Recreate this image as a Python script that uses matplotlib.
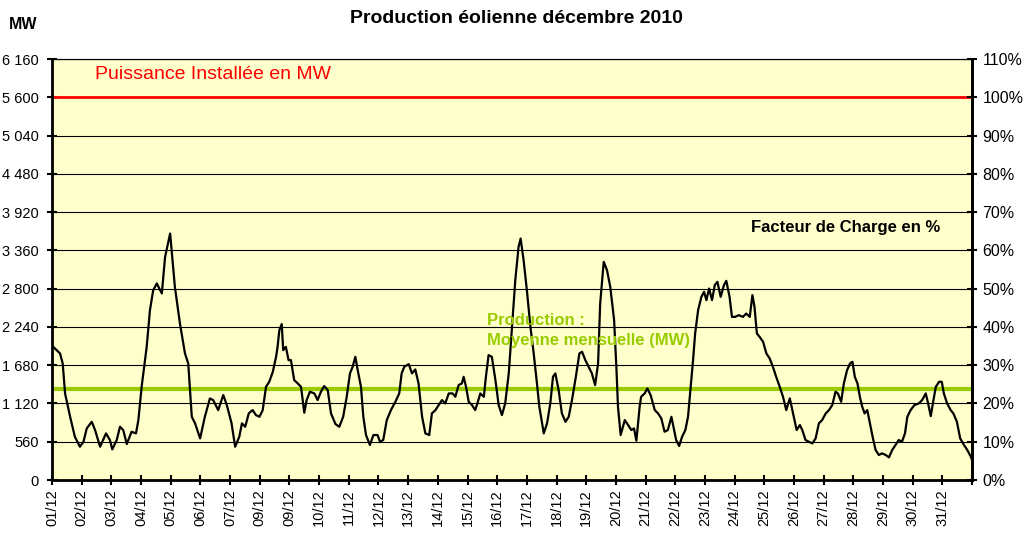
import matplotlib.pyplot as plt
from matplotlib.ticker import FuncFormatter

plt.rcParams['font.family'] = ['Liberation Sans', 'DejaVu Sans']

# data: days since 01/12 00h, MW
jours = [0.04, 0.27, 0.36, 0.44, 0.61, 0.77, 0.94, 1.06, 1.17, 1.34, 1.45, 1.62, 1.82, 1.95,
         2.03, 2.18, 2.29, 2.40, 2.52, 2.68, 2.83, 2.91, 3.02, 3.19, 3.30, 3.41, 3.53, 3.70,
         3.81, 3.98, 4.14, 4.31, 4.48, 4.59, 4.71, 4.82, 4.99, 5.15, 5.32, 5.43, 5.60, 5.77,
         5.89, 6.05, 6.17, 6.31, 6.40, 6.51, 6.63, 6.76, 6.87, 6.99, 7.10, 7.21, 7.32, 7.44,
         7.55, 7.60, 7.66, 7.74, 7.79, 7.88, 7.97, 8.05, 8.16, 8.28, 8.39, 8.50, 8.58, 8.69,
         8.84, 8.95, 9.06, 9.17, 9.29, 9.40, 9.55, 9.68, 9.81, 9.93, 10.04, 10.13, 10.22,
         10.30, 10.41, 10.49, 10.58, 10.71, 10.83, 10.97, 11.05, 11.16, 11.28, 11.42, 11.57,
         11.70, 11.78, 11.87, 12.02, 12.13, 12.24, 12.35, 12.47, 12.58, 12.71, 12.80, 12.92,
         13.03, 13.14, 13.25, 13.37, 13.50, 13.59, 13.70, 13.81, 13.87, 13.95, 14.04, 14.15,
         14.26, 14.35, 14.43, 14.55, 14.62, 14.71, 14.82, 14.94, 15.05, 15.16, 15.27, 15.39,
         15.50, 15.61, 15.72, 15.79, 15.89, 16.00, 16.12, 16.23, 16.34, 16.42, 16.57, 16.68,
         16.79, 16.88, 16.96, 17.07, 17.18, 17.30, 17.41, 17.52, 17.65, 17.77, 17.86, 17.97,
         18.08, 18.19, 18.30, 18.40, 18.47, 18.59, 18.70, 18.81, 18.94, 19.02, 19.07, 19.16,
         19.30, 19.41, 19.52, 19.61, 19.69, 19.80, 19.85, 19.97, 20.06, 20.17, 20.31, 20.42,
         20.53, 20.64, 20.75, 20.87, 20.96, 21.03, 21.13, 21.23, 21.34, 21.43, 21.52, 21.60,
         21.67, 21.77, 21.88, 21.97, 22.05, 22.14, 22.24, 22.33, 22.42, 22.53, 22.64, 22.72,
         22.83, 22.91, 23.02, 23.14, 23.28, 23.39, 23.51, 23.60, 23.67, 23.75, 23.84, 23.96,
         24.07, 24.18, 24.29, 24.40, 24.52, 24.63, 24.74, 24.86, 24.97, 25.09, 25.20, 25.28,
         25.39, 25.50, 25.62, 25.73, 25.84, 25.95, 26.07, 26.18, 26.29, 26.40, 26.48, 26.59,
         26.68, 26.79, 26.89, 26.97, 27.05, 27.14, 27.22, 27.30, 27.38, 27.47, 27.56, 27.65,
         27.75, 27.86, 27.97, 28.09, 28.20, 28.31, 28.42, 28.53, 28.64, 28.74, 28.82, 28.93,
         29.06, 29.21, 29.32, 29.44, 29.52, 29.61, 29.70, 29.78, 29.89, 29.98, 30.05, 30.16,
         30.28, 30.37, 30.49, 30.60, 30.73, 30.84, 30.96, 31.0]
production = [1949, 1852, 1706, 1267, 925, 633, 487, 560, 755, 852, 731, 487, 682, 585,
              448, 585, 779, 731, 526, 706, 682, 877, 1364, 1949, 2485, 2778, 2876, 2730,
              3265, 3607, 2826, 2291, 1852, 1706, 925, 829, 609, 925, 1194, 1170, 1023, 1243,
              1097, 829, 487, 633, 829, 779, 975, 1023, 950, 925, 1023, 1364, 1437, 1583,
              1803, 1949, 2193, 2281, 1901, 1949, 1754, 1754, 1462, 1413, 1364, 984, 1170, 1291,
              1267, 1170, 1291, 1374, 1316, 975, 819, 779, 925, 1218, 1560, 1657, 1803,
              1608, 1364, 925, 658, 512, 658, 658, 560, 585, 877, 1023, 1145,
              1267, 1560, 1657, 1696, 1560, 1618, 1413, 925, 682, 658, 975, 1023,
              1097, 1170, 1121, 1267, 1267, 1218, 1389, 1413, 1510, 1364, 1145, 1097,
              1023, 1145, 1267, 1218, 1510, 1827, 1803, 1462, 1097, 950, 1121, 1560,
              2241, 2924, 3411, 3533, 3216, 2778, 2241, 1852, 1413, 1072, 682, 829,
              1121, 1510, 1560, 1316, 975, 852, 925, 1170, 1510, 1852, 1876, 1754,
              1657, 1560, 1389, 1706, 2583, 3192, 3070, 2826, 2339, 1608, 1072, 658,
              877, 804, 731, 755, 575, 1072, 1218, 1267, 1340, 1243, 1023, 975,
              902, 706, 731, 925, 731, 585, 497, 633, 731, 925, 1364, 1754,
              2144, 2485, 2680, 2753, 2632, 2802, 2632, 2851, 2900, 2680, 2851, 2914,
              2680, 2387, 2387, 2412, 2387, 2436, 2387, 2705, 2534, 2144, 2096, 2022,
              1852, 1779, 1657, 1510, 1364, 1218, 1023, 1194, 975, 731, 804, 731,
              585, 560, 536, 609, 829, 877, 975, 1023, 1097, 1291, 1267, 1145,
              1413, 1608, 1706, 1730, 1510, 1413, 1218, 1072, 975, 1023, 829, 633,
              439, 366, 390, 366, 331, 439, 512, 585, 560, 682, 925, 1023,
              1097, 1121, 1170, 1267, 1121, 935, 1170, 1364, 1437, 1437, 1267, 1121,
              1023, 975, 852, 609, 512, 439, 341, 292]

puissance_installee = 5600
moyenne_mensuelle = 1330
etiquettes = ['01/12', '02/12', '03/12', '04/12', '05/12', '06/12', '07/12', '09/12',
              '09/12', '10/12', '11/12', '12/12', '13/12', '14/12', '15/12', '16/12',
              '17/12', '18/12', '19/12', '20/12', '21/12', '22/12', '23/12', '24/12',
              '25/12', '26/12', '27/12', '28/12', '29/12', '30/12', '31/12', '']

fig = plt.figure(figsize=(10.32, 5.4), dpi=100)
ax = fig.add_axes([0.0504, 0.1111, 0.8915, 0.7796])
ax.set_facecolor('#FFFFCC')

ymax = 6160
ax.set_xlim(0, 31)
ax.set_ylim(0, ymax)
ax.set_yticks(range(0, ymax + 1, 560))
ax.yaxis.set_major_formatter(FuncFormatter(lambda v, p: f'{int(v):,}'.replace(',', ' ')))
ax.grid(axis='y', color='black', linewidth=0.8)
ax.set_axisbelow(True)

ax.set_xticks(range(32))
ax.set_xticklabels(etiquettes, rotation=90)

ax.axhline(puissance_installee, color='#FF0000', linewidth=2)
ax.axhline(moyenne_mensuelle, color='#99CC00', linewidth=3)
ax.plot(jours, production, color='black', linewidth=1.6)

for s in ['left', 'bottom', 'right']:
    ax.spines[s].set_linewidth(2)
ax.spines['top'].set_linewidth(0.8)
ax.tick_params(axis='x', direction='inout', length=7, width=1.5, labelsize=10.5, pad=3)
ax.tick_params(axis='y', direction='inout', length=7, width=1.5, labelsize=10.5, pad=6)

ax2 = ax.twinx()
ax2.set_ylim(0, ymax / puissance_installee * 100)
ax2.set_yticks(range(0, 111, 10))
ax2.set_yticklabels([f'{v}%' for v in range(0, 111, 10)])
ax2.tick_params(direction='inout', length=7, width=1.5, labelsize=11.5, pad=4)
ax2.spines['right'].set_linewidth(2)

fig.text(0.5, 0.965, 'Production éolienne décembre 2010', ha='center', va='center',
         fontsize=14, fontweight='bold')
fig.text(0.009, 0.955, 'MW', ha='left', va='center', fontsize=11.5, fontweight='bold')
ax.text(1.45, 5930, 'Puissance Installée en MW', color='#FF0000', fontsize=14, va='center')
ax.text(14.65, 2190, 'Production :\nMoyenne mensuelle (MW)', color='#99CC00', fontsize=12,
        fontweight='bold', va='center', linespacing=1.45)
ax.text(23.55, 3690, 'Facteur de Charge en %', color='black', fontsize=12,
        fontweight='bold', va='center')

plt.savefig('out.png', dpi=100)
